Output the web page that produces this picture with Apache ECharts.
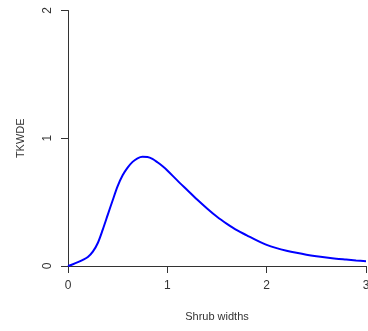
<!DOCTYPE html>
<html>
<head>
<meta charset="utf-8">
<script src="https://cdn.jsdelivr.net/npm/echarts@6/dist/echarts.min.js"></script>
<style>
  html, body { margin: 0; padding: 0; background: #fff; }
  #chart { width: 368px; height: 331px; }
</style>
</head>
<body>
<div id="chart"></div>
<script>
  /** Data */
  var widths = [0, 0.05, 0.1, 0.15, 0.2, 0.25, 0.3, 0.35, 0.4, 0.45, 0.5, 0.55, 0.6, 0.65, 0.7, 0.75, 0.8, 0.85,
    0.9, 0.95, 1.0, 1.1, 1.2, 1.3, 1.4, 1.5, 1.6, 1.7, 1.8, 1.9, 2.0, 2.1, 2.2, 2.3, 2.4, 2.5, 2.6, 2.7, 2.8, 2.9, 3.0];
  var density = [0, 0.014, 0.03, 0.048, 0.07, 0.112, 0.18, 0.285, 0.40, 0.515, 0.625, 0.71, 0.77, 0.815, 0.843, 0.855, 0.853, 0.838,
    0.812, 0.782, 0.748, 0.67, 0.595, 0.52, 0.45, 0.385, 0.33, 0.28, 0.24, 0.2, 0.165, 0.14, 0.12, 0.103, 0.088, 0.076, 0.066, 0.057, 0.05, 0.043, 0.037];
  var xTicks = [0, 1, 2, 3];
  var yTicks = [0, 1, 2];

  var points = widths.map(function(w, i) { return [w, density[i]]; });

  var textStyle = { color: '#333', fontFamily: 'Liberation Sans, Arial, sans-serif', fontSize: 11 };

  var option = {
    animation: false,
    grid: { left: 68, right: 2, top: 10.5, bottom: 65, outerBoundsMode: 'none' },
    xAxis: {
      type: 'value',
      min: xTicks[0],
      max: xTicks[xTicks.length - 1],
      interval: 1,
      name: 'Shrub widths',
      nameLocation: 'middle',
      nameGap: 45,
      nameTextStyle: textStyle,
      axisLine: { lineStyle: { color: '#333', width: 1 } },
      axisTick: { length: 7, lineStyle: { color: '#333' } },
      axisLabel: { margin: 14, color: '#333', fontFamily: textStyle.fontFamily, fontSize: 12 },
      splitLine: { show: false }
    },
    yAxis: {
      type: 'value',
      min: yTicks[0],
      max: yTicks[yTicks.length - 1],
      interval: 1,
      name: 'TKWDE',
      nameLocation: 'middle',
      nameGap: 42,
      nameTextStyle: textStyle,
      axisLine: { show: true, lineStyle: { color: '#333', width: 1 } },
      axisTick: { show: true, length: 7, lineStyle: { color: '#333' } },
      axisLabel: { rotate: 90, margin: 14, color: '#333', fontFamily: textStyle.fontFamily, fontSize: 12 },
      splitLine: { show: false }
    },
    series: [{
      type: 'line',
      data: points,
      smooth: 0.3,
      showSymbol: false,
      lineStyle: { color: '#0000ff', width: 2 }
    }]
  };

  echarts.init(document.getElementById('chart')).setOption(option);
</script>
</body>
</html>
